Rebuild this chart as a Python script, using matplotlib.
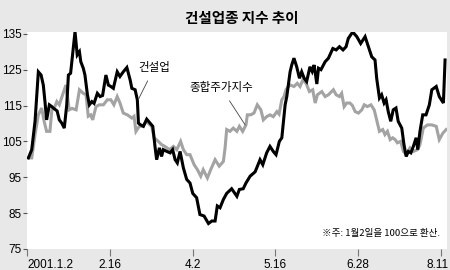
import matplotlib
matplotlib.use("Agg")
import matplotlib.pyplot as plt

plt.rcParams['font.family'] = ['Noto Sans CJK KR', 'DejaVu Sans']

title = "건설업종 지수 추이"
tick_pos = [0, 30, 60, 90, 120, 150]
tick_labels = ["2001.1.2", "2.16", "4.2", "5.16", "6.28", "8.11"]
y_ticks = [75, 85, 95, 105, 115, 125, 135]

# 건설업 (construction index), trading-day index vs value
con_x = [0.4, 1.6, 2.8, 4.0, 5.0, 5.8, 6.4, 7.0, 8.0, 8.9, 9.4, 10.8, 11.6, 12.5, 13.4,
         14.3, 14.9, 15.7, 17.3, 18.1, 18.9, 19.4, 20.3, 20.9, 21.8, 22.5, 23.4, 24.2,
         25.4, 26.4, 27.3, 28.5, 29.4, 30.3, 31.2, 32.6, 33.6, 34.8, 36.1, 37.3, 37.9,
         39.1, 39.9, 40.3, 41.1, 42.1, 43.3, 44.5, 45.5, 46.3, 46.9, 47.9, 48.7, 49.3,
         50.6, 51.8, 52.7, 53.6, 54.4, 55.4, 56.6, 57.8, 59.0, 60.0, 61.4, 62.6, 64.1,
         65.7, 66.9, 68.1, 68.9, 69.9, 71.1, 72.3, 74.1, 76.0, 76.9, 78.3, 79.3, 80.8,
         82.6, 83.2, 84.4, 85.4, 86.8, 88.0, 89.2, 90.2, 91.4, 92.3, 92.9, 93.5, 94.1,
         95.3, 95.9, 96.7, 97.7, 98.7, 99.5, 100.4, 101.3, 102.5, 103.3, 104.0, 105.0,
         105.6, 106.5, 108.0, 109.2, 110.8, 112.0, 113.2, 114.5, 115.6, 116.4, 118.0,
         119.5, 120.9, 122.5, 123.7, 124.9, 126.1, 126.7, 127.7, 128.5, 129.4, 130.1,
         130.9, 131.8, 132.7, 133.7, 134.5, 135.8, 136.6, 137.4, 138.2, 139.1, 140.0,
         141.0, 141.6, 142.4, 143.4, 144.6, 145.8, 146.7, 148.3, 149.4, 150.9, 151.5]
con_v = [100.4, 102.7, 110.6, 124.4, 123.5, 120.7, 116.1, 111.0, 115.2, 114.7, 114.3,
         113.5, 111.0, 110.1, 108.7, 115.2, 123.5, 124.0, 135.6, 129.1, 130.0, 127.2,
         125.4, 123.5, 118.0, 115.2, 116.1, 115.6, 118.4, 117.5, 117.8, 123.5, 120.7,
         120.3, 119.8, 124.4, 123.1, 124.4, 125.6, 122.1, 119.8, 119.4, 116.6, 110.1,
         109.6, 109.2, 111.2, 110.1, 109.2, 103.6, 99.9, 103.2, 100.8, 102.7, 102.2,
         101.8, 102.7, 99.9, 99.0, 102.2, 97.6, 94.4, 93.4, 90.5, 89.3, 84.6, 84.2,
         82.1, 82.8, 82.8, 87.0, 86.5, 88.8, 90.5, 91.8, 89.7, 91.6, 91.8, 93.4, 95.3,
         96.5, 97.6, 99.9, 98.5, 101.8, 103.6, 102.2, 101.3, 105.0, 106.0, 110.6, 115.2,
         117.5, 124.4, 126.3, 128.2, 125.8, 122.6, 124.4, 122.6, 121.7, 125.8, 124.5,
         126.3, 121.0, 125.4, 125.0, 127.2, 128.2, 130.9, 130.5, 131.4, 130.5, 131.4,
         133.7, 135.5, 134.2, 132.3, 134.2, 131.4, 128.6, 127.7, 122.6, 117.1, 118.0,
         115.7, 116.6, 113.3, 110.6, 113.8, 114.3, 110.6, 108.7, 104.1, 100.8, 102.2,
         101.8, 103.6, 106.0, 102.7, 107.8, 112.4, 112.4, 115.2, 119.4, 120.3, 117.5,
         115.7, 127.7]

# 종합주가지수 (KOSPI)
kospi_x = [0.4, 1.6, 2.8, 4.0, 5.2, 6.1, 7.0, 8.2, 8.9, 10.0, 10.7, 11.6, 12.8, 14.0,
           15.2, 16.2, 17.7, 18.9, 20.3, 21.3, 22.1, 23.0, 23.7, 24.9, 26.1, 27.6, 29.0,
           30.3, 31.4, 32.6, 33.6, 34.8, 36.3, 37.9, 38.7, 39.4, 40.6, 41.9, 43.1, 43.9,
           45.1, 46.0, 47.5, 48.7, 49.9, 51.5, 53.0, 54.2, 55.6, 56.6, 57.8, 59.0, 60.5,
           61.7, 62.9, 63.8, 65.3, 66.5, 68.1, 69.6, 71.1, 71.7, 72.3, 73.5, 74.7, 76.0,
           76.9, 78.1, 79.3, 79.8, 81.0, 82.2, 83.4, 84.7, 85.6, 86.8, 88.0, 89.2, 90.5,
           91.3, 92.3, 93.1, 93.8, 94.7, 95.5, 96.7, 97.9, 98.9, 99.9, 101.1, 102.3,
           103.5, 104.4, 105.2, 106.8, 108.0, 109.2, 111.0, 112.0, 113.2, 114.0, 114.9,
           115.8, 117.0, 117.9, 118.9, 120.1, 121.3, 122.2, 123.3, 124.6, 125.8, 126.7,
           127.7, 128.9, 129.7, 130.6, 131.6, 132.5, 133.4, 134.2, 135.4, 136.4, 137.4,
           138.8, 140.0, 141.5, 142.4, 143.6, 145.1, 146.7, 148.3, 149.4, 150.7, 151.9]
kospi_v = [100.4, 100.4, 106.9, 112.4, 114.3, 110.6, 107.8, 107.8, 113.8, 114.7, 116.1,
           115.2, 118.0, 120.7, 113.8, 114.2, 113.8, 119.4, 118.4, 118.0, 112.0, 112.4,
           111.0, 114.7, 115.2, 115.2, 116.6, 116.6, 115.2, 117.5, 115.7, 112.9, 112.4,
           111.5, 112.0, 107.8, 109.2, 109.2, 110.6, 110.0, 109.2, 106.0, 105.0, 104.1,
           103.6, 102.7, 103.6, 102.7, 105.0, 102.7, 101.3, 101.3, 98.5, 97.1, 95.3,
           97.1, 94.8, 97.1, 99.9, 98.1, 99.4, 103.0, 108.3, 107.8, 108.7, 107.8, 109.2,
           107.8, 109.6, 112.4, 112.4, 112.9, 115.2, 113.8, 111.0, 111.9, 112.4, 111.9,
           113.3, 112.6, 116.6, 117.5, 119.4, 120.3, 120.7, 120.3, 121.2, 120.3, 122.1,
           121.2, 118.9, 119.4, 115.7, 118.0, 118.9, 117.5, 118.0, 119.4, 118.0, 117.5,
           118.4, 114.7, 115.7, 115.7, 115.0, 113.3, 112.9, 113.8, 115.2, 114.7, 115.2,
           113.8, 111.0, 107.8, 108.3, 106.9, 107.8, 105.5, 106.0, 105.5, 104.6, 105.0,
           102.2, 101.3, 103.2, 102.2, 102.7, 104.1, 108.7, 109.6, 109.6, 109.2, 105.5,
           107.3, 108.3]

bg = '#e8e8e8'
fig = plt.figure(figsize=(4.5, 2.7), dpi=100, facecolor=bg)
ax = fig.add_axes([0.0607, 0.0778, 0.932, 0.805])
ax.set_facecolor('white')

ax.plot(kospi_x, kospi_v, color='#a3a3a3', lw=2.2, solid_joinstyle='miter')
ax.plot(con_x, con_v, color='black', lw=2.2, solid_joinstyle='miter')

ax.set_xlim(0, 152.1)
ax.set_ylim(75, 135.6)
for s in ax.spines.values():
    s.set_visible(False)

narrow = ['Liberation Sans Narrow', 'Liberation Sans', 'DejaVu Sans']
ax.set_yticks(y_ticks)
ax.set_yticklabels([str(v) for v in y_ticks], family=narrow, fontsize=8.5)
ax.set_xticks(tick_pos)
# last label drawn separately so it can sit slightly left of its tick
ax.set_xticklabels(tick_labels[:-1] + [""], family=narrow, fontsize=8.5)
ax.get_xticklabels()[0].set_horizontalalignment('left')
ax.tick_params(axis='y', length=3, width=0.8, color='#555555', pad=1)
ax.tick_params(axis='x', length=5, width=0.8, color='#777777', pad=2)
ax.annotate(tick_labels[-1], xy=(tick_pos[-1], 0), xycoords=ax.get_xaxis_transform(),
            xytext=(-3.5, -9.7), textcoords='offset pixels', ha='center', va='top',
            family=narrow, fontsize=8.5, annotation_clip=False)

fig.text(0.538, 0.935, title, ha='center', va='center', fontsize=10.5,
         fontweight='bold', family=['Noto Sans CJK KR', 'DejaVu Sans'])

ax.annotate('건설업', xy=(40.2, 116.6), xytext=(46.0, 125.5),
            ha='center', va='center', fontsize=8.3, fontweight='medium',
            arrowprops=dict(arrowstyle='-', color='#444444', lw=0.6, shrinkA=3, shrinkB=0))
ax.annotate('종합주가지수', xy=(79.0, 109.6), xytext=(70.3, 119.9),
            ha='center', va='center', fontsize=8.3, fontweight='medium',
            arrowprops=dict(arrowstyle='-', color='#444444', lw=0.6, shrinkA=3, shrinkB=0))

ax.text(149.7, 79.3, '※주: 1월2일을 100으로 환산.', ha='right', va='center', fontsize=6.9,
        family=['Noto Sans CJK KR', 'DejaVu Sans'])

fig.savefig('out.png', dpi=100, facecolor=bg)
